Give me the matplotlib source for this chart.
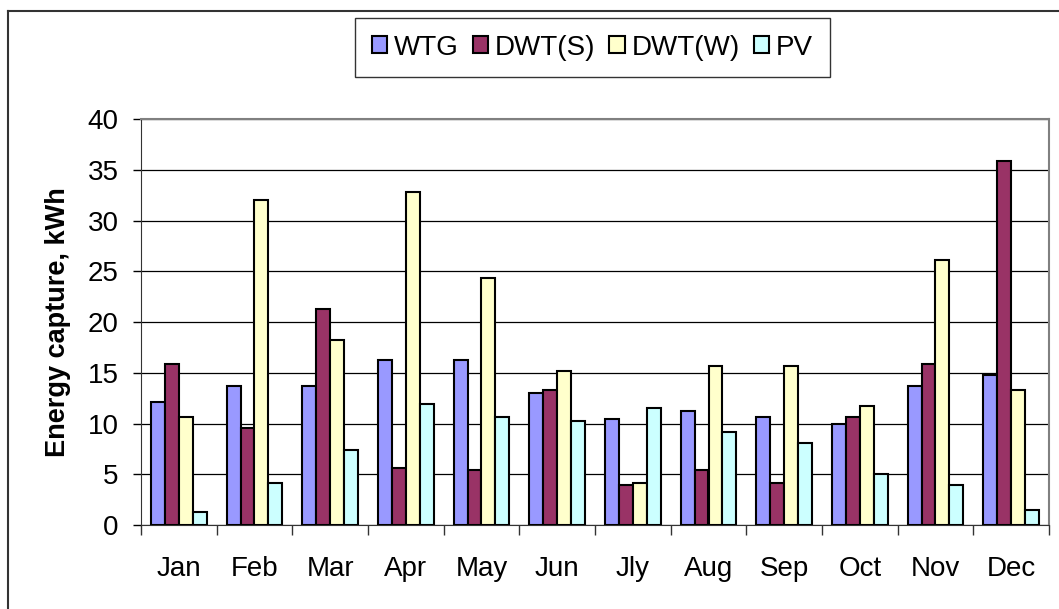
import numpy as np
import matplotlib
matplotlib.use('Agg')
import matplotlib.pyplot as plt
from matplotlib.lines import Line2D

#===============================================================================
# data
#===============================================================================
months = ['Jan', 'Feb', 'Mar', 'Apr', 'May', 'Jun', 'Jly', 'Aug', 'Sep', 'Oct', 'Nov', 'Dec']
wtg = [12.15, 13.7, 13.7, 16.3, 16.3, 13.0, 10.4, 11.26, 10.64, 10.0, 13.7, 14.8]
dwt_s = [15.86, 9.52, 21.3, 5.65, 5.4, 13.27, 3.9, 5.4, 4.1, 10.64, 15.86, 35.86]
dwt_w = [10.6, 32.0, 18.26, 32.8, 24.3, 15.2, 4.1, 15.67, 15.67, 11.76, 26.1, 13.27]
pv = [1.25, 4.1, 7.39, 11.95, 10.6, 10.2, 11.5, 9.13, 8.05, 5.0, 3.9, 1.48]

series_names = ['WTG', 'DWT(S)', 'DWT(W)', 'PV']
colors = ['#9999FF', '#993366', '#FFFFCC', '#CCFFFF']

#===============================================================================
# setup
#===============================================================================
matplotlib.rcParams['font.family'] = ['Liberation Sans', 'DejaVu Sans']
matplotlib.rcParams['font.size'] = 20

fig = plt.figure(figsize=(10.59, 6.09), dpi=100)
ax = fig.add_axes([141/1059, 84/609, 908/1059, 406/609])

# outer chart border (top + left only visible)
fig.add_artist(Line2D([8/1059, 8/1059], [0, 1 - 11/609], transform=fig.transFigure,
                      color='#333333', linewidth=1.5))
fig.add_artist(Line2D([8/1059, 1], [1 - 11/609, 1 - 11/609], transform=fig.transFigure,
                      color='#333333', linewidth=1.5))

#===============================================================================
# bars
#===============================================================================
x = np.arange(len(months))
bw = 0.185
for i, (vals, name, c) in enumerate(zip([wtg, dwt_s, dwt_w, pv], series_names, colors)):
    ax.bar(x + (i - 1.5)*bw, vals, width=bw, color=c, edgecolor='black',
           linewidth=1.5, label=name, zorder=3)

#===============================================================================
# axes formatting
#===============================================================================
ax.set_xlim(-0.5, len(months) - 0.5)
ax.set_ylim(0, 40)
ax.set_yticks(np.arange(0, 41, 5))
ax.yaxis.grid(True, color='black', linewidth=0.9, zorder=0)
ax.set_axisbelow(True)

ax.set_xticks(x)
ax.set_xticklabels(months)
ax.set_xticks(np.arange(-0.5, len(months), 1), minor=True)
ax.tick_params(axis='x', which='major', length=0, pad=22)
ax.tick_params(axis='x', which='minor', length=7, width=1, color='#333333', direction='out')
ax.tick_params(axis='y', length=6, width=1, pad=10, direction='out')

for s in ['top', 'right']:
    ax.spines[s].set_color('#808080')
    ax.spines[s].set_linewidth(1.5)
ax.spines['left'].set_color('#333333')
ax.spines['bottom'].set_color('#333333')

ax.set_ylabel('Energy capture, kWh', fontweight='bold', fontsize=19.5, labelpad=12)

leg = ax.legend(ncol=4, loc='upper left', bbox_to_anchor=(355/1059, 1 - 18/609),
                bbox_transform=fig.transFigure, borderaxespad=0, frameon=True,
                fancybox=False, edgecolor='black', handlelength=0.55, handleheight=0.55,
                handletextpad=0.25, columnspacing=0.5, borderpad=0.6, fontsize=20)
leg.get_frame().set_linewidth(1.0)
for h in leg.legend_handles:
    h.set_linewidth(1.5)

fig.savefig('out.png', dpi=100)
